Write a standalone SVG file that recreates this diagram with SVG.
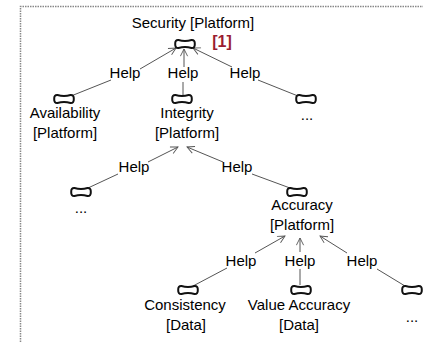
<svg xmlns="http://www.w3.org/2000/svg" width="423" height="342" viewBox="0 0 423 342">
<style>
text{font-family:"Liberation Sans",Arial,sans-serif;font-size:15px;fill:#000;text-anchor:middle}
.c line{stroke:#555;stroke-width:1}
.a{marker-end:url(#arr)}
.g{fill:#fff;stroke:#111;stroke-width:2}
.ref{font-weight:bold;font-size:16px;fill:#9b1c31}
</style>
<defs>
<marker id="arr" viewBox="0 0 10 10" refX="9" refY="5" markerWidth="9" markerHeight="9" markerUnits="userSpaceOnUse" orient="auto">
<path d="M1,1 L9,5 L1,9" fill="none" stroke="#555" stroke-width="1"/>
</marker>
<path id="goal" class="g" d="M-6.5,-4 Q0,-2.2 6.5,-4 Q10,-4.3 9.8,0 Q10,4.3 6.5,4 Q0,2.2 -6.5,4 Q-10,4.3 -9.8,0 Q-10,-4.3 -6.5,-4 Z"/>
</defs>
<path d="M20.5,342 V6.5 H423" fill="none" stroke="#888" stroke-width="1.5" stroke-dasharray="1.5,1"/>
<g id="connectors" class="c">
<line class="a" x1="140" y1="69" x2="176" y2="48"/>
<line class="a" x1="184" y1="67" x2="184" y2="49"/>
<line class="a" x1="232" y1="67" x2="193" y2="48"/>
<line x1="111" y1="80" x2="71" y2="96"/>
<line x1="183" y1="82" x2="183" y2="95"/>
<line x1="258" y1="80" x2="298" y2="96"/>
<line class="a" x1="148" y1="162" x2="178" y2="147"/>
<line class="a" x1="223" y1="162" x2="187" y2="147"/>
<line x1="118" y1="174" x2="88" y2="188"/>
<line x1="252" y1="174" x2="290" y2="188"/>
<line class="a" x1="255" y1="253" x2="285" y2="236"/>
<line class="a" x1="300" y1="252" x2="300" y2="238"/>
<line class="a" x1="347" y1="253" x2="320" y2="236"/>
<line x1="227" y1="268" x2="193" y2="286"/>
<line x1="300" y1="269" x2="300" y2="285"/>
<line x1="377" y1="269" x2="405" y2="286"/>
<g id="help-labels">
<text x="125" y="78">Help</text>
<text x="183" y="78">Help</text>
<text x="245" y="78">Help</text>
<text x="134" y="172">Help</text>
<text x="237" y="172">Help</text>
<text x="241" y="266">Help</text>
<text x="300" y="266">Help</text>
<text x="362" y="266">Help</text>
</g>
</g>
<g id="security">
<use href="#goal" x="185" y="44"/>
<text x="193" y="28">Security [Platform]</text>
<text class="ref" x="222" y="47">[1]</text>
</g>
<g id="availability">
<use href="#goal" x="64" y="99"/>
<text x="65" y="118">Availability</text>
<text x="65" y="138">[Platform]</text>
</g>
<g id="integrity">
<use href="#goal" x="182" y="99"/>
<text x="187" y="118">Integrity</text>
<text x="187" y="138">[Platform]</text>
</g>
<g id="other1">
<use href="#goal" x="306" y="99"/>
<text x="307" y="120">...</text>
</g>
<g id="other2">
<use href="#goal" x="81" y="192"/>
<text x="81" y="213">...</text>
</g>
<g id="accuracy">
<use href="#goal" x="297" y="192"/>
<text x="302" y="210">Accuracy</text>
<text x="302" y="230">[Platform]</text>
</g>
<g id="consistency">
<use href="#goal" x="188" y="290"/>
<text x="185" y="310">Consistency</text>
<text x="186" y="330">[Data]</text>
</g>
<g id="value-accuracy">
<use href="#goal" x="301" y="290"/>
<text x="299" y="310">Value Accuracy</text>
<text x="299" y="330">[Data]</text>
</g>
<g id="other3">
<use href="#goal" x="412" y="290"/>
<text x="412" y="322">...</text>
</g>
</svg>
